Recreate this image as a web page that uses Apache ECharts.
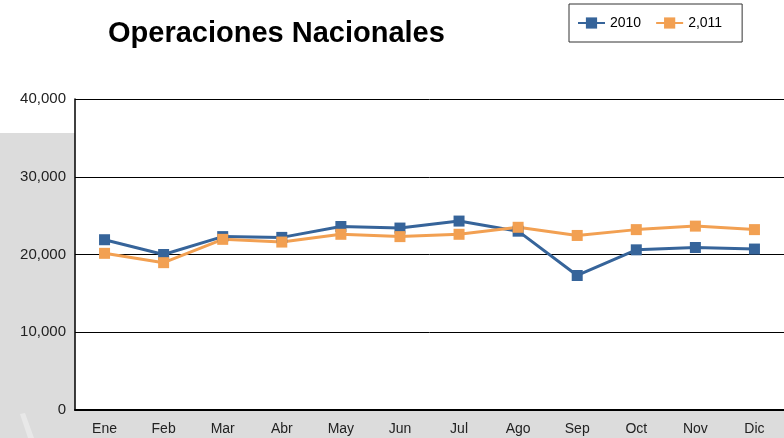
<!DOCTYPE html>
<html>
<head>
<meta charset="utf-8">
<script src="https://cdn.jsdelivr.net/npm/echarts@6/dist/echarts.min.js"></script>
<style>
  html, body { margin: 0; padding: 0; background: #fff; }
  #chart { width: 784px; height: 438px; }
</style>
</head>
<body>
<div id="chart"></div>
<script>
// datos
var meses = ['Ene', 'Feb', 'Mar', 'Abr', 'May', 'Jun', 'Jul', 'Ago', 'Sep', 'Oct', 'Nov', 'Dic'];
var serie2010 = [21900, 20000, 22300, 22200, 23600, 23400, 24300, 23000, 17300, 20600, 20900, 20700];
var serie2011 = [20150, 18950, 21950, 21600, 22600, 22300, 22600, 23500, 22450, 23200, 23650, 23200];
var nombres = ['2010', '2,011'];
var colores = ['#36649a', '#f2a052'];

var fuente = 'Liberation Sans, Arial, sans-serif';
var chart = echarts.init(document.getElementById('chart'));

function linea(nombre, datos, color) {
  return {
    name: nombre,
    type: 'line',
    data: datos,
    symbol: 'rect',
    symbolSize: 11,
    showSymbol: true,
    lineStyle: { color: color, width: 3 },
    itemStyle: { color: color },
    emphasis: { disabled: true },
    animation: false
  };
}

var option = {
  backgroundColor: '#fff',
  graphic: [
    { type: 'rect', z: -10, silent: true, shape: { x: 0, y: 133, width: 784, height: 305 }, style: { fill: '#dcdcdc' } },
    { type: 'polygon', z: -9, silent: true, shape: { points: [[20, 414], [25, 413], [34, 438], [28, 438]] }, style: { fill: '#e8e8e8' } }
  ],
  title: {
    text: 'Operaciones Nacionales',
    left: 103,
    top: 14,
    textStyle: { fontFamily: fuente, fontSize: 29, fontWeight: 'bold', color: '#000' }
  },
  legend: {
    left: 569,
    top: 4,
    padding: [12, 20, 12, 8],
    itemGap: 14,
    itemWidth: 27,
    itemHeight: 14,
    borderColor: '#333',
    borderWidth: 1,
    backgroundColor: '#fff',
    textStyle: { fontFamily: fuente, fontSize: 14, color: '#000' },
    data: nombres
  },
  grid: {
    left: 75,
    top: 99,
    right: -4,
    bottom: 28,
    show: true,
    backgroundColor: '#fff',
    borderWidth: 0
  },
  xAxis: {
    type: 'category',
    data: meses,
    boundaryGap: true,
    axisLine: { lineStyle: { color: '#000', width: 2 } },
    axisTick: { show: false },
    axisLabel: { fontFamily: fuente, fontSize: 14, color: '#222', margin: 12 }
  },
  yAxis: {
    type: 'value',
    min: 0,
    max: 40000,
    interval: 10000,
    axisLine: { show: true, lineStyle: { color: '#000', width: 1.5 } },
    axisTick: { show: false },
    splitLine: { lineStyle: { color: '#000', width: 1 } },
    axisLabel: {
      fontFamily: fuente, fontSize: 15, color: '#222', margin: 9,
      formatter: function (v) { return v.toLocaleString('en-US'); }
    }
  },
  series: [
    linea(nombres[0], serie2010, colores[0]),
    linea(nombres[1], serie2011, colores[1])
  ]
};

chart.setOption(option);
</script>
</body>
</html>
